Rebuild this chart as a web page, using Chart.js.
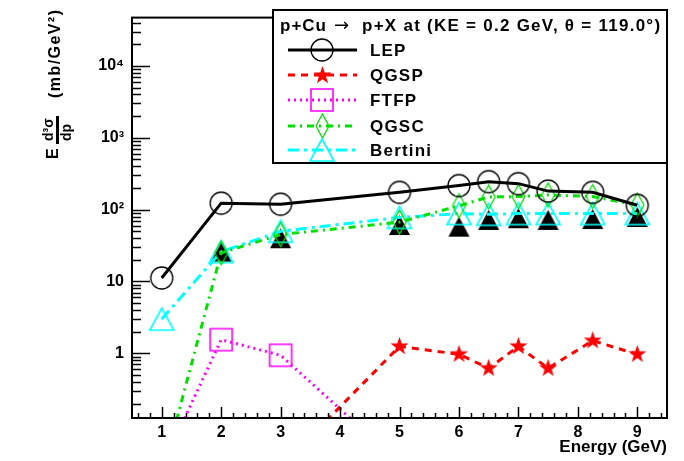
<!DOCTYPE html>
<html>
<head>
<meta charset="utf-8">
<script src="https://cdn.jsdelivr.net/npm/chart.js@4.4.1/dist/chart.umd.min.js"></script>
<style>
  html, body { margin: 0; padding: 0; background: #fff; }
  canvas { display: block; }
</style>
</head>
<body>
<canvas id="chart" width="684" height="461"></canvas>
<script>
// values
const energy  = [1, 2, 3, 5, 6, 6.5, 7, 7.5, 8.25, 9];
const lep     = [11.2, 123, 119, 174, 216, 245, 230, 181, 174, 115];
const qgsp    = [null, null, 0.026, 1.25, 0.97, 0.62, 1.25, 0.62, 1.5, 0.97];
const ftfp    = [0.026, 1.55, 0.94, 0.03, null, null, null, null, null, null];
const qgsc    = [0.02, 25, 45, 67, 113, 150, 152, 160, 152, 116];
const bertini = [3.0, 26, 50, 78, 88, 86, 88, 88, 88, 88];
const measured = [null, 26, 40, 61, 58, 72, 76, 72, 74, 79];

const seriesNames = ['LEP', 'QGSP', 'FTFP', 'QGSC', 'Bertini'];
const xTicks = [1, 2, 3, 4, 5, 6, 7, 8, 9];
const yTicks = [1, 10, 100, 1000, 10000];
const yTickLabels = ['1', '10', '10\u00B2', '10\u00B3', '10\u2074'];
const titleParts = ['p+Cu', '\u2192', 'p+X at (KE = 0.2 GeV, \u03B8 = 119.0\u00B0)'];

const FONT = '"Liberation Sans", Arial, sans-serif';

// marker images drawn once, used as pointStyle
function marker(kind, color, w, h, lw) {
  const c = document.createElement('canvas');
  c.width = w + 4; c.height = h + 4;
  const g = c.getContext('2d');
  g.translate(c.width / 2, c.height / 2);
  g.strokeStyle = color; g.fillStyle = color; g.lineWidth = lw || 1.5;
  g.beginPath();
  if (kind === 'circle') {
    g.arc(0, 0, w / 2, 0, Math.PI * 2);
  } else if (kind === 'square') {
    g.rect(-w / 2, -h / 2, w, h);
  } else if (kind === 'diamond') {
    g.moveTo(0, -h / 2); g.lineTo(w / 2, 0); g.lineTo(0, h / 2); g.lineTo(-w / 2, 0); g.closePath();
  } else if (kind === 'star') {
    for (let i = 0; i < 10; i++) {
      const r = i % 2 ? w * 0.2 : w / 2;
      const a = -Math.PI / 2 + i * Math.PI / 5;
      g.lineTo(r * Math.cos(a), r * Math.sin(a));
    }
    g.closePath();
  } else {
    g.moveTo(0, -h / 2); g.lineTo(w / 2, h / 2); g.lineTo(-w / 2, h / 2); g.closePath();
  }
  if (kind === 'star' || kind === 'triangleFill') g.fill(); else g.stroke();
  return c;
}

const markers = {
  lep: marker('circle', '#000', 22, 22, 1.3),
  qgsp: marker('star', '#ff0000', 19, 19),
  ftfp: marker('square', '#ff00ff', 22, 22, 1.6),
  qgsc: marker('diamond', '#00e000', 13, 24, 1.3),
  bertini: marker('triangle', '#00ffff', 24, 22, 1.6),
  data: marker('triangleFill', '#000', 21, 20)
};

function series(values) {
  return energy.map((x, i) => ({ x: x, y: values[i] }));
}

const datasets = [
  { label: seriesNames[0], data: series(lep), borderColor: '#000', borderWidth: 3,
    pointStyle: markers.lep, order: 1 },
  { label: seriesNames[1], data: series(qgsp), borderColor: '#ff0000', borderWidth: 3,
    borderDash: [7, 6], pointStyle: markers.qgsp, order: 2 },
  { label: seriesNames[2], data: series(ftfp), borderColor: '#ff00ff', borderWidth: 3,
    borderDash: [2, 4], pointStyle: markers.ftfp, order: 3 },
  { label: seriesNames[3], data: series(qgsc), borderColor: '#00e000', borderWidth: 3,
    borderDash: [7, 5, 2, 5], pointStyle: markers.qgsc, order: 4 },
  { label: seriesNames[4], data: series(bertini), borderColor: '#00ffff', borderWidth: 3,
    borderDash: [11, 5, 3, 5], pointStyle: markers.bertini, order: 5 },
  { label: 'data', data: series(measured), showLine: false,
    pointStyle: markers.data, order: 10 }
];
datasets.forEach(ds => {
  ds.pointRadius = 10;
  ds.tension = 0;
  ds.fill = false;
  ds.clip = 0;
});

// draw text stretched to a given width with letter spacing
function spacedText(ctx, text, x, y, width) {
  ctx.letterSpacing = '0px';
  const w = ctx.measureText(text).width;
  const n = Math.max(1, text.length - 1);
  ctx.letterSpacing = ((width - w) / n).toFixed(2) + 'px';
  ctx.fillText(text, x, y);
  ctx.letterSpacing = '1px';
}

// frame and ROOT-like inward ticks
const framePlugin = {
  id: 'frame',
  afterDatasetsDraw(chart) {
    const ctx = chart.ctx;
    const a = chart.chartArea;
    const xs = chart.scales.x, ys = chart.scales.y;
    ctx.save();
    ctx.strokeStyle = '#000';
    ctx.lineWidth = 1.5;
    ctx.beginPath();
    for (let e = -1; e <= 4; e++) {
      for (let m = 1; m <= 9; m++) {
        const v = m * Math.pow(10, e);
        if (v < ys.min || v > ys.max) continue;
        const y = Math.round(ys.getPixelForValue(v)) + 0.5;
        ctx.moveTo(a.left, y);
        ctx.lineTo(a.left + (m === 1 ? 18 : 9), y);
      }
    }
    for (let k = 3; k <= 47; k++) {
      const v = k * 0.2;
      if (v < xs.min || v > xs.max) continue;
      const x = Math.round(xs.getPixelForValue(v)) + 0.5;
      const major = k % 5 === 0;
      ctx.moveTo(x, a.bottom);
      ctx.lineTo(x, a.bottom - (major ? 11 : 5));
    }
    ctx.stroke();
    ctx.lineWidth = 2;
    ctx.strokeRect(a.left, a.top, a.right - a.left, a.bottom - a.top);
    ctx.restore();
  }
};

// legend box with title
const legendPlugin = {
  id: 'rootLegend',
  afterDraw(chart) {
    const ctx = chart.ctx;
    const left = 273, top = 10, right = chart.chartArea.right, bottom = 163;
    ctx.save();
    ctx.fillStyle = '#fff';
    ctx.fillRect(left, top, right - left, bottom - top);
    ctx.strokeStyle = '#000';
    ctx.lineWidth = 2;
    ctx.strokeRect(left, top, right - left, bottom - top);
    ctx.fillStyle = '#000';
    ctx.textBaseline = 'middle';
    ctx.textAlign = 'left';
    ctx.font = 'bold 17px ' + FONT;
    spacedText(ctx, titleParts[0], 280, 26, 46);
    ctx.font = '18px "DejaVu Sans", sans-serif';
    ctx.letterSpacing = '0px';
    ctx.fillText(titleParts[1], 334, 26);
    ctx.font = 'bold 17px ' + FONT;
    spacedText(ctx, titleParts[2], 362, 26, 298);
    const rows = [50, 75, 100, 126, 150];
    for (let i = 0; i < 5; i++) {
      const ds = chart.data.datasets[i];
      const y = rows[i];
      ctx.strokeStyle = ds.borderColor;
      ctx.lineWidth = ds.borderWidth;
      ctx.setLineDash(ds.borderDash || []);
      ctx.beginPath();
      ctx.moveTo(288, y);
      ctx.lineTo(357, y);
      ctx.stroke();
      ctx.setLineDash([]);
      const img = ds.pointStyle;
      ctx.drawImage(img, Math.round(322 - img.width / 2), Math.round(y - img.height / 2));
      ctx.fillStyle = '#000';
      ctx.font = 'bold 17px ' + FONT;
      ctx.letterSpacing = '1.2px';
      ctx.fillText(ds.label, 370, y + 1);
    }
    ctx.restore();
  }
};

// y axis title: E d3sigma/dp3 (mb/GeV2), rotated
const yTitlePlugin = {
  id: 'yTitle',
  afterDraw(chart) {
    const ctx = chart.ctx;
    ctx.save();
    ctx.translate(58, 160);
    ctx.rotate(-Math.PI / 2);
    ctx.fillStyle = '#000';
    ctx.textAlign = 'left';
    ctx.textBaseline = 'alphabetic';
    ctx.letterSpacing = '0px';
    ctx.font = 'bold 16px ' + FONT;
    ctx.fillText('E', 1, 0);
    ctx.fillRect(16, -2, 28, 3);
    ctx.font = 'bold 14px ' + FONT;
    ctx.fillText('d\u00B3\u03C3', 19, -5);
    ctx.fillText('dp', 19, 13);
    ctx.font = 'bold 16px ' + FONT;
    spacedText(ctx, '(mb/GeV\u00B2)', 62, 2, 88);
    ctx.restore();
  }
};

const canvas = document.getElementById('chart');
canvas.getContext('2d').letterSpacing = '1px';

new Chart(canvas, {
  type: 'line',
  data: { datasets: datasets },
  options: {
    responsive: false,
    animation: false,
    events: [],
    layout: { padding: { left: 0, top: 10, right: 17, bottom: 0 } },
    plugins: { legend: { display: false }, tooltip: { enabled: false } },
    scales: {
      x: {
        type: 'linear',
        min: 0.5,
        max: 9.5,
        grid: { display: false, drawTicks: false },
        border: { display: false },
        afterBuildTicks: s => { s.ticks = xTicks.map(v => ({ value: v })); },
        afterFit: s => { s.height = 43; },
        ticks: {
          color: '#000',
          padding: 5,
          font: { family: FONT, size: 16, weight: 'bold' },
          callback: v => String(v)
        },
        title: {
          display: true,
          text: 'Energy (GeV)',
          align: 'end',
          color: '#000',
          padding: { top: 0, bottom: 3 },
          font: { family: FONT, size: 17, weight: 'bold' }
        }
      },
      y: {
        type: 'logarithmic',
        min: 0.126,
        max: 47000,
        grid: { display: false, drawTicks: false },
        border: { display: false },
        afterBuildTicks: s => { s.ticks = yTicks.map(v => ({ value: v })); },
        afterFit: s => { s.width = 132; },
        ticks: {
          color: '#000',
          padding: 8,
          font: { family: FONT, size: 16, weight: 'bold' },
          callback: v => yTickLabels[yTicks.indexOf(v)]
        }
      }
    }
  },
  plugins: [framePlugin, legendPlugin, yTitlePlugin]
});
</script>
</body>
</html>
